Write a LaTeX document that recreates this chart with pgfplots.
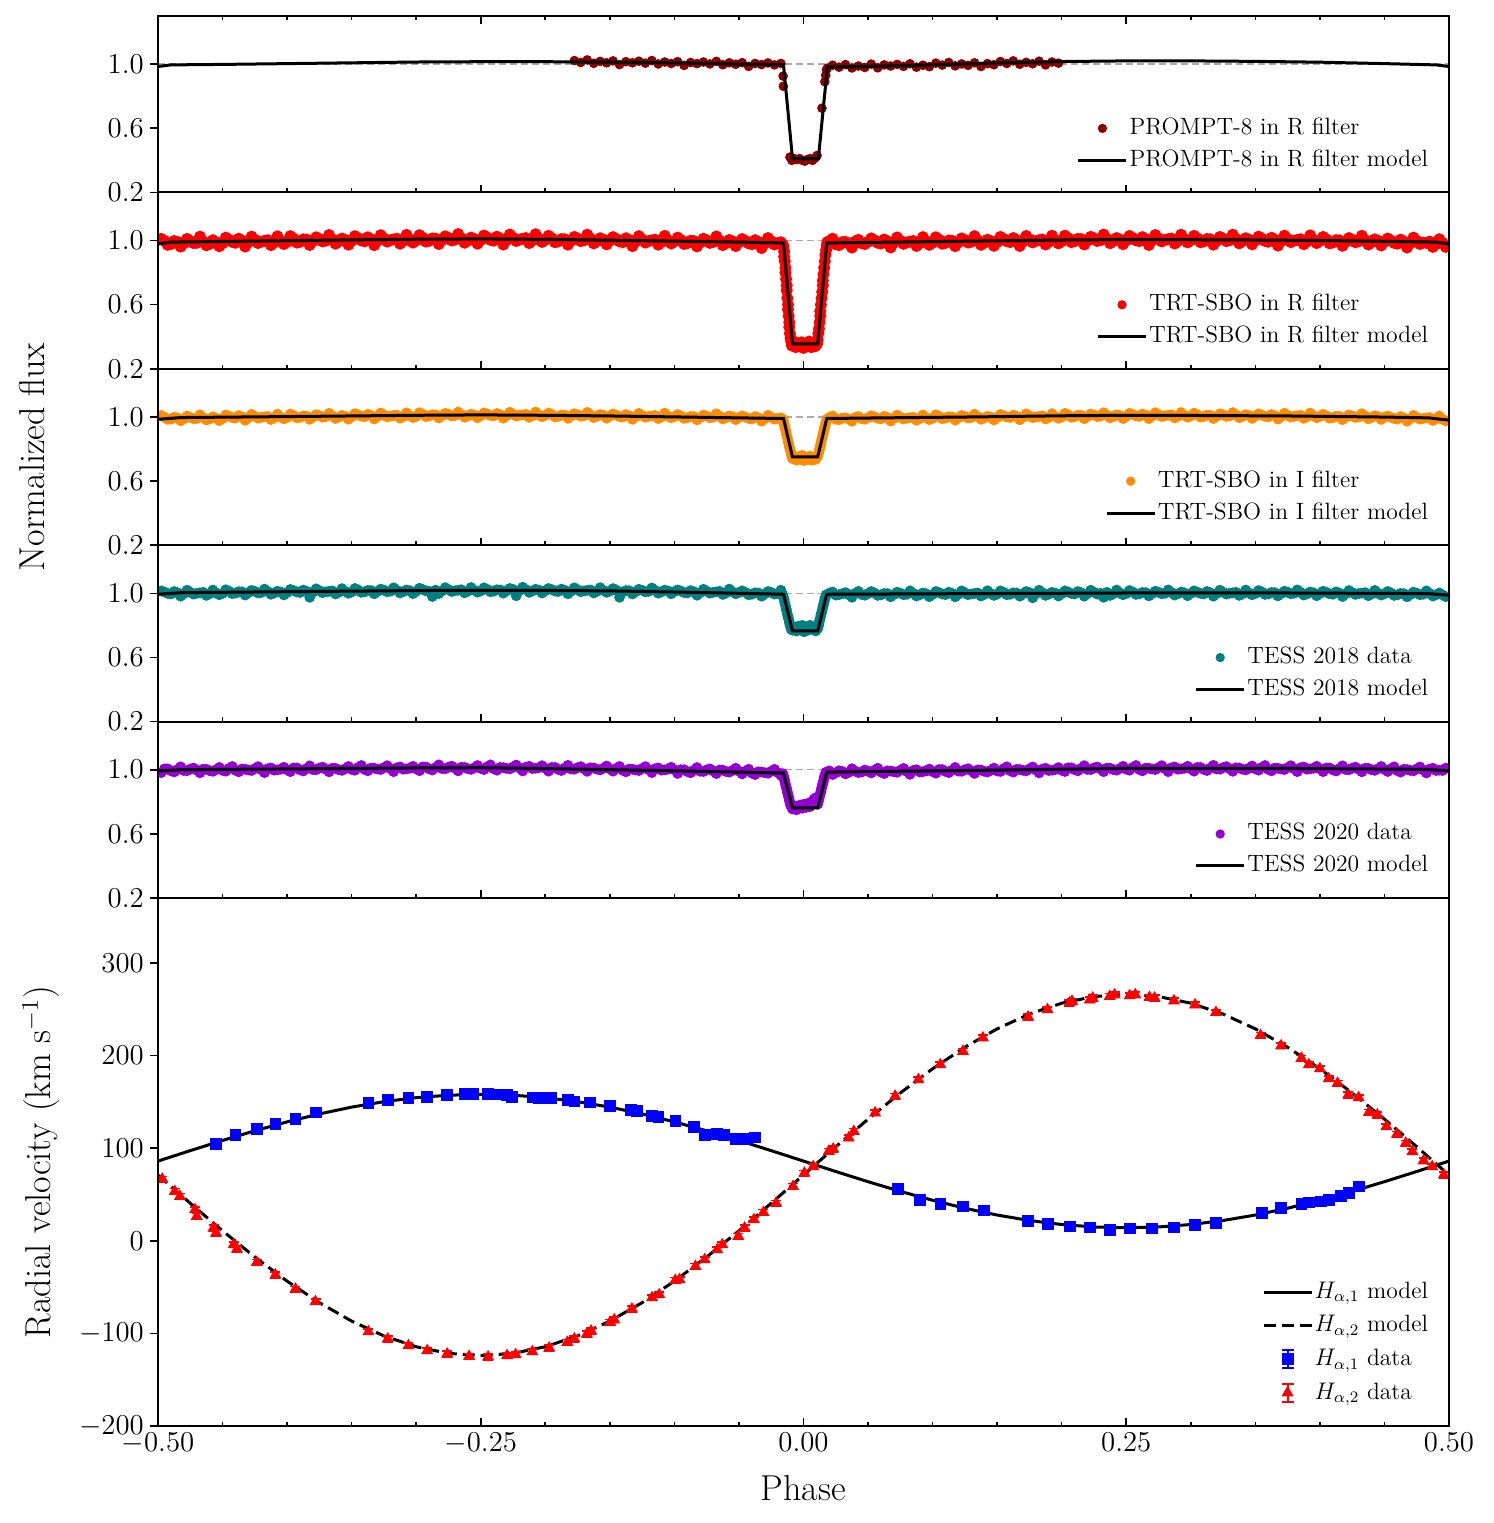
\documentclass[border=0pt]{standalone}
\usepackage{fontspec}
\usepackage{pgfplots}
\pgfplotsset{compat=1.18}
\definecolor{pdarkred}{HTML}{8B0000}
\definecolor{pteal}{HTML}{008080}
\definecolor{pviolet}{HTML}{9400D3}
\definecolor{porange}{HTML}{FF8C00}
\definecolor{dgray}{HTML}{AAAAAA}
\pgfplotsset{
  base/.style={
    scale only axis, width=645.5pt,
    xmin=-0.5, xmax=0.5,
    axis on top,
    axis line style={line width=1pt},
    every tick/.append style={black, line width=0.8pt},
    major tick length=3.8pt, minor tick length=2.1pt,
    tick align=inside,
    xtick={-0.5,-0.25,0,0.25,0.5},
    minor xtick={-0.45,-0.4,-0.35,-0.3,-0.2,-0.15,-0.1,-0.05,0.05,0.1,0.15,0.2,0.3,0.35,0.4,0.45},
    ytick pos=left,
    ytick style={xshift=-3.8pt},
    yticklabel style={xshift=-3.6pt},
    tick label style={font=\fontsize{15.3}{18}\selectfont},
    clip marker paths=true,
    legend cell align=left,
    legend style={draw=none, fill=none, inner sep=0pt, outer sep=0pt,
       at={(1,0)}, anchor=south east, xshift=-9.7pt, yshift=8pt,
       font=\fontsize{11.8}{13}\selectfont,
       nodes={inner xsep=0.8pt, inner ysep=0pt, text height=11pt, text depth=5pt}},
  },
  flux/.style={base, height=88.2pt, ymin=0.2, ymax=1.3, ytick={0.2,0.6,1.0},
    yticklabel style={/pgf/number format/.cd, fixed, fixed zerofill, precision=1},
    xticklabels={}, xtick pos=left},
  dotleg/.style={legend image code/.code={\draw[mark repeat=2,mark phase=2,##1, mark size=2.1pt] plot coordinates {(0pt,0pt) (12pt,0pt) (24pt,0pt)};}},
  lineleg/.style={legend image code/.code={\draw[##1] (0pt,0pt) -- (24pt,0pt);}},
  errlegB/.style={legend image code/.code={\draw[blue, line width=0.9pt] (12pt,-4.5pt) -- (12pt,4.5pt) (9pt,-4.5pt) -- (15pt,-4.5pt) (9pt,4.5pt) -- (15pt,4.5pt); \draw[##1] plot coordinates {(12pt,0pt)};}},
  errlegR/.style={legend image code/.code={\draw[red, line width=0.9pt] (12pt,-4.5pt) -- (12pt,4.5pt) (9pt,-4.5pt) -- (15pt,-4.5pt) (9pt,4.5pt) -- (15pt,4.5pt); \draw[##1] plot coordinates {(12pt,0pt)};}},
  refline/.style={dgray, line width=0.75pt, dash pattern=on 3.5pt off 2pt, forget plot},
  model/.style={black, line width=1.5pt, lineleg},
  dat/.style={only marks, mark=*, mark size=2.2pt, dotleg},
  datbig/.style={only marks, mark=*, mark size=2.8pt, dotleg},
  datmid/.style={only marks, mark=*, mark size=2.5pt, dotleg},
}
\begin{document}
\begin{tikzpicture}
\path[use as bounding box] (0,0) rectangle (747pt,761.5pt);

% ---------------- Panel 1: PROMPT-8 R
\begin{axis}[flux, at={(79pt,665.3pt)}, anchor=south west, xtick pos=both]
\addplot[refline] coordinates {(-0.5,1)(0.5,1)};
\addplot[dat, pdarkred] coordinates {
(-0.1775,1.022)(-0.1725,1.010)(-0.1675,1.026)(-0.1625,1.005)(-0.1575,1.017)(-0.1525,1.008)
(-0.1475,1.020)(-0.1425,0.997)(-0.1375,1.015)(-0.1325,1.008)(-0.1275,1.018)(-0.1225,1.006)(-0.1175,1.022)(-0.1125,1.001)(-0.1075,1.013)(-0.1025,1.004)
(-0.0975,1.015)(-0.0925,0.992)(-0.0875,1.010)(-0.0825,1.003)(-0.0775,1.013)(-0.0725,1.001)(-0.0675,1.017)(-0.0625,0.996)(-0.0575,1.008)(-0.0525,0.999)
(-0.0475,1.009)(-0.0425,0.986)(-0.0375,1.004)(-0.0325,0.997)(-0.0275,1.007)(-0.0225,0.995)(-0.0175,1.004)
(-0.0158,0.925)(-0.0156,0.862)
(-0.0105,0.420)(-0.0090,0.400)(-0.0070,0.410)(-0.0050,0.405)(-0.0030,0.410)(-0.0010,0.400)(0.0010,0.395)(0.0030,0.405)(0.0050,0.410)(0.0070,0.400)(0.0090,0.415)(0.0105,0.430)
(0.0143,0.725)(0.0165,0.890)(0.0172,0.930)(0.0178,0.965)(0.0185,0.975)
(0.0225,0.993)(0.0275,0.981)(0.0325,0.997)(0.0375,0.976)(0.0425,0.988)(0.0475,0.979)
(0.0525,1.000)(0.0575,0.977)(0.0625,0.995)(0.0675,0.988)(0.0725,0.998)(0.0775,0.986)(0.0825,1.002)(0.0875,0.981)(0.0925,0.993)(0.0975,0.984)
(0.1025,1.006)(0.1075,0.994)(0.1125,1.010)(0.1175,0.989)(0.1225,1.001)(0.1275,0.992)(0.1325,1.008)(0.1375,0.985)(0.1425,1.003)(0.1475,0.996)
(0.1525,1.016)(0.1575,1.004)(0.1625,1.020)(0.1675,0.999)(0.1725,1.011)(0.1775,1.002)(0.1825,1.018)(0.1875,0.995)(0.1925,1.013)(0.1975,1.006)
};
\addlegendentry{PROMPT-8 in R filter}
\addplot[model] coordinates {
(-0.5,0.985)(-0.49,0.995)(-0.45,0.998)(-0.4,1.003)(-0.35,1.008)(-0.3,1.013)(-0.25,1.015)(-0.2,1.015)(-0.15,1.012)(-0.1,1.008)(-0.05,1.0)(-0.0155,0.996)(-0.0085,0.41)(0.0115,0.41)(0.0185,0.982)(0.05,0.986)(0.1,0.995)(0.15,1.007)(0.2,1.016)(0.25,1.02)(0.3,1.02)(0.35,1.017)(0.4,1.012)(0.45,1.003)(0.49,0.995)(0.5,0.985)
};
\addlegendentry{PROMPT-8 in R filter model}
\end{axis}

% ---------------- Panel 2: TRT-SBO R
\begin{axis}[flux, at={(79pt,577.1pt)}, anchor=south west]
\addplot[refline] coordinates {(-0.5,1)(0.5,1)};
\addplot[datbig, red] coordinates {
(-0.4975,1.010)(-0.4925,0.973)(-0.4875,0.997)(-0.4825,0.962)(-0.4775,1.010)(-0.4725,0.984)(-0.4675,1.024)(-0.4625,0.970)(-0.4575,1.002)(-0.4525,0.964)
(-0.4475,1.018)(-0.4425,0.991)(-0.4375,1.011)(-0.4325,0.962)(-0.4275,1.024)(-0.4225,0.984)(-0.4175,0.998)(-0.4125,0.971)(-0.4075,1.026)(-0.4025,0.978)
(-0.3975,1.027)(-0.3925,0.987)(-0.3875,1.007)(-0.3825,0.972)(-0.3775,1.020)(-0.3725,0.994)(-0.3675,1.034)(-0.3625,0.980)(-0.3575,1.012)(-0.3525,0.974)
(-0.3475,1.027)(-0.3425,1.000)(-0.3375,1.020)(-0.3325,0.971)(-0.3275,1.033)(-0.3225,0.993)(-0.3175,1.007)(-0.3125,0.980)(-0.3075,1.035)(-0.3025,0.987)
(-0.2975,1.033)(-0.2925,0.993)(-0.2875,1.013)(-0.2825,0.978)(-0.2775,1.026)(-0.2725,1.000)(-0.2675,1.040)(-0.2625,0.986)(-0.2575,1.018)(-0.2525,0.980)
(-0.2475,1.031)(-0.2425,1.004)(-0.2375,1.024)(-0.2325,0.975)(-0.2275,1.037)(-0.2225,0.997)(-0.2175,1.011)(-0.2125,0.984)(-0.2075,1.039)(-0.2025,0.991)
(-0.1975,1.029)(-0.1925,0.989)(-0.1875,1.009)(-0.1825,0.974)(-0.1775,1.022)(-0.1725,0.996)(-0.1675,1.036)(-0.1625,0.982)(-0.1575,1.014)(-0.1525,0.976)
(-0.1475,1.021)(-0.1425,0.994)(-0.1375,1.014)(-0.1325,0.965)(-0.1275,1.027)(-0.1225,0.987)(-0.1175,1.001)(-0.1125,0.974)(-0.1075,1.029)(-0.1025,0.981)
(-0.0975,1.018)(-0.0925,0.978)(-0.0875,0.998)(-0.0825,0.963)(-0.0775,1.011)(-0.0725,0.985)(-0.0675,1.025)(-0.0625,0.971)(-0.0575,1.003)(-0.0525,0.965)
(-0.0475,1.009)(-0.0425,0.982)(-0.0375,1.002)(-0.0325,0.953)(-0.0275,1.015)(-0.0225,0.975)(-0.0175,0.989)
(-0.0160,0.975)(-0.0155,0.960)(-0.0150,0.930)(-0.0150,0.900)(-0.0145,0.870)(-0.0140,0.830)(-0.0140,0.800)(-0.0135,0.760)(-0.0130,0.720)(-0.0130,0.690)(-0.0125,0.640)(-0.0120,0.600)(-0.0120,0.570)(-0.0115,0.530)(-0.0110,0.490)(-0.0110,0.460)(-0.0105,0.420)(-0.0100,0.390)(-0.0095,0.370)
(-0.0090,0.345)(-0.0075,0.370)(-0.0060,0.335)(-0.0045,0.360)(-0.0030,0.340)(-0.0015,0.365)(0.0000,0.330)(0.0015,0.355)(0.0030,0.345)(0.0045,0.370)(0.0060,0.335)(0.0075,0.360)(0.0090,0.340)(0.0105,0.355)
(0.0110,0.380)(0.0115,0.420)(0.0120,0.450)(0.0125,0.490)(0.0130,0.530)(0.0130,0.560)(0.0135,0.600)(0.0140,0.640)(0.0145,0.680)(0.0150,0.720)(0.0150,0.750)(0.0155,0.790)(0.0160,0.830)(0.0165,0.870)(0.0170,0.910)(0.0175,0.940)(0.0180,0.970)(0.0185,0.990)
(0.0225,1.011)(0.0275,0.971)(0.0325,0.991)(0.0375,0.956)(0.0425,1.004)(0.0475,0.978)
(0.0525,1.013)(0.0575,0.986)(0.0625,1.006)(0.0675,0.957)(0.0725,1.019)(0.0775,0.979)(0.0825,0.993)(0.0875,0.966)(0.0925,1.021)(0.0975,0.973)
(0.1025,1.020)(0.1075,0.980)(0.1125,1.000)(0.1175,0.965)(0.1225,1.013)(0.1275,0.987)(0.1325,1.027)(0.1375,0.973)(0.1425,1.005)(0.1475,0.967)
(0.1525,1.022)(0.1575,0.995)(0.1625,1.015)(0.1675,0.966)(0.1725,1.028)(0.1775,0.988)(0.1825,1.002)(0.1875,0.975)(0.1925,1.030)(0.1975,0.982)
(0.2025,1.030)(0.2075,0.990)(0.2125,1.010)(0.2175,0.975)(0.2225,1.023)(0.2275,0.997)(0.2325,1.037)(0.2375,0.983)(0.2425,1.015)(0.2475,0.977)
(0.2525,1.028)(0.2575,1.001)(0.2625,1.021)(0.2675,0.972)(0.2725,1.034)(0.2775,0.994)(0.2825,1.008)(0.2875,0.981)(0.2925,1.036)(0.2975,0.988)
(0.3025,1.029)(0.3075,0.989)(0.3125,1.009)(0.3175,0.974)(0.3225,1.022)(0.3275,0.996)(0.3325,1.036)(0.3375,0.982)(0.3425,1.014)(0.3475,0.976)
(0.3525,1.024)(0.3575,0.997)(0.3625,1.017)(0.3675,0.968)(0.3725,1.030)(0.3775,0.990)(0.3825,1.004)(0.3875,0.977)(0.3925,1.032)(0.3975,0.984)
(0.4025,1.022)(0.4075,0.982)(0.4125,1.002)(0.4175,0.967)(0.4225,1.015)(0.4275,0.989)(0.4325,1.029)(0.4375,0.975)(0.4425,1.007)(0.4475,0.969)
(0.4525,1.012)(0.4575,0.985)(0.4625,1.005)(0.4675,0.956)(0.4725,1.018)(0.4775,0.978)(0.4825,0.985)(0.4875,0.960)(0.4925,1.008)(0.4975,0.960)
(-0.495,0.998)(-0.490,0.978)(-0.485,0.992)(-0.480,0.982)(-0.475,0.996)(-0.470,0.985)(-0.465,0.994)(-0.460,0.979)(-0.455,0.990)(-0.450,0.983)
(-0.445,1.006)(-0.440,0.986)(-0.435,1.000)(-0.430,0.990)(-0.425,1.004)(-0.420,0.993)(-0.415,1.002)(-0.410,0.987)(-0.405,0.998)(-0.400,0.991)
(-0.395,1.012)(-0.390,0.992)(-0.385,1.006)(-0.380,0.996)(-0.375,1.010)(-0.370,0.999)(-0.365,1.008)(-0.360,0.993)(-0.355,1.004)(-0.350,0.997)
(-0.345,1.015)(-0.340,0.995)(-0.335,1.009)(-0.330,0.999)(-0.325,1.013)(-0.320,1.002)(-0.315,1.011)(-0.310,0.996)(-0.305,1.007)(-0.300,1.000)
(-0.295,1.018)(-0.290,0.998)(-0.285,1.012)(-0.280,1.002)(-0.275,1.016)(-0.270,1.005)(-0.265,1.014)(-0.260,0.999)(-0.255,1.010)(-0.250,1.003)
(-0.245,1.019)(-0.240,0.999)(-0.235,1.013)(-0.230,1.003)(-0.225,1.017)(-0.220,1.006)(-0.215,1.015)(-0.210,1.000)(-0.205,1.011)(-0.200,1.004)
(-0.195,1.014)(-0.190,0.994)(-0.185,1.008)(-0.180,0.998)(-0.175,1.012)(-0.170,1.001)(-0.165,1.010)(-0.160,0.995)(-0.155,1.006)(-0.150,0.999)
(-0.145,1.009)(-0.140,0.989)(-0.135,1.003)(-0.130,0.993)(-0.125,1.007)(-0.120,0.996)(-0.115,1.005)(-0.110,0.990)(-0.105,1.001)(-0.100,0.994)
(-0.095,1.003)(-0.090,0.983)(-0.085,0.997)(-0.080,0.987)(-0.075,1.001)(-0.070,0.990)(-0.065,0.999)(-0.060,0.984)(-0.055,0.995)(-0.050,0.988)
(-0.045,0.997)(-0.040,0.977)(-0.035,0.991)(-0.030,0.981)(-0.025,0.995)(-0.020,0.984)
(0.020,0.996)(0.025,0.976)(0.030,0.990)(0.035,0.980)(0.040,0.994)(0.045,0.983)(0.050,0.992)
(0.055,1.001)(0.060,0.981)(0.065,0.995)(0.070,0.985)(0.075,0.999)(0.080,0.988)(0.085,0.997)(0.090,0.982)(0.095,0.993)(0.100,0.986)
(0.105,1.005)(0.110,0.985)(0.115,0.999)(0.120,0.989)(0.125,1.003)(0.130,0.992)(0.135,1.001)(0.140,0.986)(0.145,0.997)(0.150,0.990)
(0.155,1.010)(0.160,0.990)(0.165,1.004)(0.170,0.994)(0.175,1.008)(0.180,0.997)(0.185,1.006)(0.190,0.991)(0.195,1.002)(0.200,0.995)
(0.205,1.015)(0.210,0.995)(0.215,1.009)(0.220,0.999)(0.225,1.013)(0.230,1.002)(0.235,1.011)(0.240,0.996)(0.245,1.007)(0.250,1.000)
(0.255,1.016)(0.260,0.996)(0.265,1.010)(0.270,1.000)(0.275,1.014)(0.280,1.003)(0.285,1.012)(0.290,0.997)(0.295,1.008)(0.300,1.001)
(0.305,1.014)(0.310,0.994)(0.315,1.008)(0.320,0.998)(0.325,1.012)(0.330,1.001)(0.335,1.010)(0.340,0.995)(0.345,1.006)(0.350,0.999)
(0.355,1.012)(0.360,0.992)(0.365,1.006)(0.370,0.996)(0.375,1.010)(0.380,0.999)(0.385,1.008)(0.390,0.993)(0.395,1.004)(0.400,0.997)
(0.405,1.007)(0.410,0.987)(0.415,1.001)(0.420,0.991)(0.425,1.005)(0.430,0.994)(0.435,1.003)(0.440,0.988)(0.445,0.999)(0.450,0.992)
(0.455,1.000)(0.460,0.980)(0.465,0.994)(0.470,0.984)(0.475,0.998)(0.480,0.987)(0.485,0.993)(0.490,0.978)(0.495,0.985)
};
\addlegendentry{TRT-SBO in R filter}
\addplot[model] coordinates {
(-0.5,0.978)(-0.49,0.99)(-0.45,0.994)(-0.4,0.999)(-0.35,1.004)(-0.3,1.008)(-0.25,1.01)(-0.2,1.007)(-0.15,1.002)(-0.1,0.996)(-0.05,0.99)(-0.0155,0.985)(-0.0085,0.356)(0.011,0.356)(0.018,0.985)(0.05,0.988)(0.1,0.993)(0.15,0.998)(0.2,1.003)(0.25,1.006)(0.3,1.005)(0.35,1.003)(0.4,1.0)(0.45,0.995)(0.49,0.99)(0.5,0.978)
};
\addlegendentry{TRT-SBO in R filter model}
\end{axis}

% ---------------- Panel 3: TRT-SBO I
\begin{axis}[flux, at={(79pt,488.9pt)}, anchor=south west,
  ylabel={Normalized flux},
  every axis y label/.style={at={(axis description cs:-0.0976,0.5)}, rotate=90, anchor=center, font=\fontsize{18}{21}\selectfont}]
\addplot[refline] coordinates {(-0.5,1)(0.5,1)};
\addplot[datmid, porange] coordinates {
(-0.4975,1.009)(-0.4925,0.985)(-0.4875,0.997)(-0.4825,0.976)(-0.4775,1.005)(-0.4725,0.989)(-0.4675,1.013)(-0.4625,0.981)(-0.4575,1.000)(-0.4525,0.977)
(-0.4475,1.012)(-0.4425,0.996)(-0.4375,1.008)(-0.4325,0.979)(-0.4275,1.016)(-0.4225,0.992)(-0.4175,1.000)(-0.4125,0.984)(-0.4075,1.017)(-0.4025,0.988)
(-0.3975,1.018)(-0.3925,0.994)(-0.3875,1.006)(-0.3825,0.985)(-0.3775,1.014)(-0.3725,0.998)(-0.3675,1.022)(-0.3625,0.990)(-0.3575,1.009)(-0.3525,0.986)
(-0.3475,1.020)(-0.3425,1.004)(-0.3375,1.016)(-0.3325,0.987)(-0.3275,1.024)(-0.3225,1.000)(-0.3175,1.008)(-0.3125,0.992)(-0.3075,1.025)(-0.3025,0.996)
(-0.2975,1.026)(-0.2925,1.002)(-0.2875,1.014)(-0.2825,0.993)(-0.2775,1.022)(-0.2725,1.006)(-0.2675,1.030)(-0.2625,0.998)(-0.2575,1.017)(-0.2525,0.994)
(-0.2475,1.025)(-0.2425,1.009)(-0.2375,1.021)(-0.2325,0.992)(-0.2275,1.029)(-0.2225,1.005)(-0.2175,1.013)(-0.2125,0.997)(-0.2075,1.030)(-0.2025,1.001)
(-0.1975,1.024)(-0.1925,1.000)(-0.1875,1.012)(-0.1825,0.991)(-0.1775,1.020)(-0.1725,1.004)(-0.1675,1.028)(-0.1625,0.996)(-0.1575,1.015)(-0.1525,0.992)
(-0.1475,1.018)(-0.1425,1.002)(-0.1375,1.014)(-0.1325,0.985)(-0.1275,1.022)(-0.1225,0.998)(-0.1175,1.006)(-0.1125,0.990)(-0.1075,1.023)(-0.1025,0.994)
(-0.0975,1.015)(-0.0925,0.991)(-0.0875,1.003)(-0.0825,0.982)(-0.0775,1.011)(-0.0725,0.995)(-0.0675,1.019)(-0.0625,0.987)(-0.0575,1.006)(-0.0525,0.983)
(-0.0475,1.006)(-0.0425,0.990)(-0.0375,1.002)(-0.0325,0.973)(-0.0275,1.010)(-0.0225,0.986)(-0.0175,0.994)
(-0.0160,0.985)(-0.0155,0.975)(-0.0150,0.955)(-0.0145,0.940)(-0.0140,0.920)(-0.0135,0.905)(-0.0130,0.885)(-0.0125,0.870)(-0.0120,0.850)(-0.0115,0.835)(-0.0110,0.815)(-0.0105,0.800)(-0.0100,0.785)(-0.0095,0.770)(-0.0090,0.755)
(-0.0085,0.740)(-0.0070,0.755)(-0.0055,0.730)(-0.0040,0.750)(-0.0025,0.735)(-0.0010,0.760)(0.0005,0.728)(0.0020,0.748)(0.0035,0.735)(0.0050,0.755)(0.0065,0.730)(0.0080,0.745)(0.0095,0.735)(0.0105,0.750)
(0.0110,0.755)(0.0115,0.770)(0.0120,0.785)(0.0125,0.800)(0.0130,0.820)(0.0135,0.835)(0.0140,0.855)(0.0145,0.870)(0.0150,0.890)(0.0155,0.905)(0.0160,0.925)(0.0165,0.940)(0.0170,0.955)(0.0175,0.970)(0.0180,0.985)
(0.0225,1.006)(0.0275,0.982)(0.0325,0.994)(0.0375,0.973)(0.0425,1.002)(0.0475,0.986)
(0.0525,1.007)(0.0575,0.991)(0.0625,1.003)(0.0675,0.974)(0.0725,1.011)(0.0775,0.987)(0.0825,0.995)(0.0875,0.979)(0.0925,1.012)(0.0975,0.983)
(0.1025,1.013)(0.1075,0.989)(0.1125,1.001)(0.1175,0.980)(0.1225,1.009)(0.1275,0.993)(0.1325,1.017)(0.1375,0.985)(0.1425,1.004)(0.1475,0.981)
(0.1525,1.015)(0.1575,0.999)(0.1625,1.011)(0.1675,0.982)(0.1725,1.019)(0.1775,0.995)(0.1825,1.003)(0.1875,0.987)(0.1925,1.020)(0.1975,0.991)
(0.2025,1.022)(0.2075,0.998)(0.2125,1.010)(0.2175,0.989)(0.2225,1.018)(0.2275,1.002)(0.2325,1.026)(0.2375,0.994)(0.2425,1.013)(0.2475,0.990)
(0.2525,1.022)(0.2575,1.006)(0.2625,1.018)(0.2675,0.989)(0.2725,1.026)(0.2775,1.002)(0.2825,1.010)(0.2875,0.994)(0.2925,1.027)(0.2975,0.998)
(0.3025,1.023)(0.3075,0.999)(0.3125,1.011)(0.3175,0.990)(0.3225,1.019)(0.3275,1.003)(0.3325,1.027)(0.3375,0.995)(0.3425,1.014)(0.3475,0.991)
(0.3525,1.019)(0.3575,1.003)(0.3625,1.015)(0.3675,0.986)(0.3725,1.023)(0.3775,0.999)(0.3825,1.007)(0.3875,0.991)(0.3925,1.024)(0.3975,0.995)
(0.4025,1.016)(0.4075,0.992)(0.4125,1.004)(0.4175,0.983)(0.4225,1.012)(0.4275,0.996)(0.4325,1.020)(0.4375,0.988)(0.4425,1.007)(0.4475,0.984)
(0.4525,1.006)(0.4575,0.990)(0.4625,1.002)(0.4675,0.973)(0.4725,1.010)(0.4775,0.986)(0.4825,0.994)(0.4875,0.978)(0.4925,1.005)(0.4975,0.975)
(-0.495,0.998)(-0.490,0.986)(-0.485,0.994)(-0.480,0.988)(-0.475,0.997)(-0.470,0.990)(-0.465,0.996)(-0.460,0.987)(-0.455,0.993)(-0.450,0.989)
(-0.445,1.005)(-0.440,0.993)(-0.435,1.001)(-0.430,0.995)(-0.425,1.004)(-0.420,0.997)(-0.415,1.003)(-0.410,0.994)(-0.405,1.000)(-0.400,0.996)
(-0.395,1.009)(-0.390,0.997)(-0.385,1.005)(-0.380,0.999)(-0.375,1.008)(-0.370,1.001)(-0.365,1.007)(-0.360,0.998)(-0.355,1.004)(-0.350,1.000)
(-0.345,1.013)(-0.340,1.001)(-0.335,1.009)(-0.330,1.003)(-0.325,1.012)(-0.320,1.005)(-0.315,1.011)(-0.310,1.002)(-0.305,1.008)(-0.300,1.004)
(-0.295,1.017)(-0.290,1.005)(-0.285,1.013)(-0.280,1.007)(-0.275,1.016)(-0.270,1.009)(-0.265,1.015)(-0.260,1.006)(-0.255,1.012)(-0.250,1.008)
(-0.245,1.018)(-0.240,1.006)(-0.235,1.014)(-0.230,1.008)(-0.225,1.017)(-0.220,1.010)(-0.215,1.016)(-0.210,1.007)(-0.205,1.013)(-0.200,1.009)
(-0.195,1.015)(-0.190,1.003)(-0.185,1.011)(-0.180,1.005)(-0.175,1.014)(-0.170,1.007)(-0.165,1.013)(-0.160,1.004)(-0.155,1.010)(-0.150,1.006)
(-0.145,1.011)(-0.140,0.999)(-0.135,1.007)(-0.130,1.001)(-0.125,1.010)(-0.120,1.003)(-0.115,1.009)(-0.110,1.000)(-0.105,1.006)(-0.100,1.002)
(-0.095,1.006)(-0.090,0.994)(-0.085,1.002)(-0.080,0.996)(-0.075,1.005)(-0.070,0.998)(-0.065,1.004)(-0.060,0.995)(-0.055,1.001)(-0.050,0.997)
(-0.045,0.999)(-0.040,0.987)(-0.035,0.995)(-0.030,0.989)(-0.025,0.998)(-0.020,0.991)
(0.020,0.997)(0.025,0.985)(0.030,0.993)(0.035,0.987)(0.040,0.996)(0.045,0.989)(0.050,0.995)
(0.055,1.000)(0.060,0.988)(0.065,0.996)(0.070,0.990)(0.075,0.999)(0.080,0.992)(0.085,0.998)(0.090,0.989)(0.095,0.995)(0.100,0.991)
(0.105,1.004)(0.110,0.992)(0.115,1.000)(0.120,0.994)(0.125,1.003)(0.130,0.996)(0.135,1.002)(0.140,0.993)(0.145,0.999)(0.150,0.995)
(0.155,1.008)(0.160,0.996)(0.165,1.004)(0.170,0.998)(0.175,1.007)(0.180,1.000)(0.185,1.006)(0.190,0.997)(0.195,1.003)(0.200,0.999)
(0.205,1.013)(0.210,1.001)(0.215,1.009)(0.220,1.003)(0.225,1.012)(0.230,1.005)(0.235,1.011)(0.240,1.002)(0.245,1.008)(0.250,1.004)
(0.255,1.015)(0.260,1.003)(0.265,1.011)(0.270,1.005)(0.275,1.014)(0.280,1.007)(0.285,1.013)(0.290,1.004)(0.295,1.010)(0.300,1.006)
(0.305,1.014)(0.310,1.002)(0.315,1.010)(0.320,1.004)(0.325,1.013)(0.330,1.006)(0.335,1.012)(0.340,1.003)(0.345,1.009)(0.350,1.005)
(0.355,1.012)(0.360,1.000)(0.365,1.008)(0.370,1.002)(0.375,1.011)(0.380,1.004)(0.385,1.010)(0.390,1.001)(0.395,1.007)(0.400,1.003)
(0.405,1.007)(0.410,0.995)(0.415,1.003)(0.420,0.997)(0.425,1.006)(0.430,0.999)(0.435,1.005)(0.440,0.996)(0.445,1.002)(0.450,0.998)
(0.455,0.998)(0.460,0.986)(0.465,0.994)(0.470,0.988)(0.475,0.997)(0.480,0.990)(0.485,0.996)(0.490,0.987)(0.495,0.985)
};
\addlegendentry{TRT-SBO in I filter}
\addplot[model] coordinates {
(-0.5,0.985)(-0.482,0.996)(-0.4,1.002)(-0.3,1.01)(-0.25,1.0125)(-0.2,1.01)(-0.15,1.006)(-0.1,1.0)(-0.05,0.994)(-0.0155,0.99)(-0.0085,0.75)(0.011,0.75)(0.018,0.99)(0.05,0.993)(0.134,1.0)(0.2,1.007)(0.25,1.01)(0.3,1.009)(0.374,1.006)(0.45,0.999)(0.484,0.994)(0.5,0.98)
};
\addlegendentry{TRT-SBO in I filter model}
\end{axis}

% ---------------- Panel 4: TESS 2018
\begin{axis}[flux, at={(79pt,400.7pt)}, anchor=south west]
\addplot[refline] coordinates {(-0.5,1)(0.5,1)};
\addplot[datmid, pteal] coordinates {
(-0.4975,1.015)(-0.4925,0.999)(-0.4875,1.011)(-0.4825,0.982)(-0.4775,1.019)(-0.4725,0.995)(-0.4675,1.003)(-0.4625,0.987)(-0.4575,1.020)(-0.4525,0.991)
(-0.4475,1.022)(-0.4425,0.998)(-0.4375,1.010)(-0.4325,0.989)(-0.4275,1.018)(-0.4225,1.002)(-0.4175,1.026)(-0.4125,0.994)(-0.4075,1.013)(-0.4025,0.990)
(-0.3975,1.024)(-0.3925,1.008)(-0.3875,1.020)(-0.3825,0.975)(-0.3775,1.028)(-0.3725,1.004)(-0.3675,1.012)(-0.3625,0.996)(-0.3575,1.029)(-0.3525,1.000)
(-0.3475,1.030)(-0.3425,1.006)(-0.3375,1.018)(-0.3325,0.997)(-0.3275,1.026)(-0.3225,1.010)(-0.3175,1.034)(-0.3125,1.002)(-0.3075,1.021)(-0.3025,0.998)
(-0.2975,1.031)(-0.2925,1.015)(-0.2875,0.980)(-0.2825,0.998)(-0.2775,1.035)(-0.2725,1.011)(-0.2675,1.019)(-0.2625,1.003)(-0.2575,1.036)(-0.2525,1.007)
(-0.2475,1.034)(-0.2425,1.010)(-0.2375,1.022)(-0.2325,1.001)(-0.2275,1.030)(-0.2225,0.985)(-0.2175,1.038)(-0.2125,1.006)(-0.2075,1.025)(-0.2025,1.002)
(-0.1975,1.030)(-0.1925,1.014)(-0.1875,1.026)(-0.1825,0.997)(-0.1775,1.034)(-0.1725,1.010)(-0.1675,1.018)(-0.1625,1.002)(-0.1575,1.035)(-0.1525,1.006)
(-0.1475,1.029)(-0.1425,0.975)(-0.1375,1.017)(-0.1325,0.996)(-0.1275,1.025)(-0.1225,1.009)(-0.1175,1.033)(-0.1125,1.001)(-0.1075,1.020)(-0.1025,0.997)
(-0.0975,1.021)(-0.0925,1.005)(-0.0875,1.017)(-0.0825,0.988)(-0.0775,1.025)(-0.0725,1.001)(-0.0675,1.009)(-0.0625,0.993)(-0.0575,1.026)(-0.0525,0.997)
(-0.0475,1.015)(-0.0425,0.991)(-0.0375,1.003)(-0.0325,0.982)(-0.0275,1.011)(-0.0225,0.995)(-0.0175,1.019)
(-0.0160,0.990)(-0.0155,0.975)(-0.0150,0.960)(-0.0145,0.940)(-0.0140,0.925)(-0.0135,0.905)(-0.0130,0.890)(-0.0125,0.870)(-0.0120,0.855)(-0.0115,0.840)(-0.0110,0.820)(-0.0105,0.805)(-0.0100,0.790)(-0.0095,0.775)
(-0.0085,0.770)(-0.0070,0.790)(-0.0055,0.765)(-0.0040,0.795)(-0.0025,0.775)(-0.0010,0.800)(0.0005,0.760)(0.0020,0.785)(0.0035,0.770)(0.0050,0.800)(0.0065,0.775)(0.0080,0.790)(0.0095,0.765)(0.0105,0.785)
(0.0110,0.780)(0.0115,0.795)(0.0120,0.810)(0.0125,0.830)(0.0130,0.845)(0.0135,0.865)(0.0140,0.880)(0.0145,0.895)(0.0150,0.915)(0.0155,0.930)(0.0160,0.945)(0.0165,0.965)(0.0170,0.975)(0.0175,0.990)
(0.0225,1.008)(0.0275,0.992)(0.0325,1.004)(0.0375,0.975)(0.0425,1.012)(0.0475,0.988)
(0.0525,1.011)(0.0575,0.987)(0.0625,0.999)(0.0675,0.978)(0.0725,1.007)(0.0775,0.991)(0.0825,1.015)(0.0875,0.983)(0.0925,1.002)(0.0975,0.979)
(0.1025,1.011)(0.1075,0.995)(0.1125,1.007)(0.1175,0.978)(0.1225,1.015)(0.1275,0.991)(0.1325,0.999)(0.1375,0.983)(0.1425,1.016)(0.1475,0.987)
(0.1525,1.015)(0.1575,0.991)(0.1625,1.003)(0.1675,0.982)(0.1725,1.011)(0.1775,0.972)(0.1825,1.019)(0.1875,0.987)(0.1925,1.006)(0.1975,0.983)
(0.2025,1.015)(0.2075,0.999)(0.2125,1.011)(0.2175,0.982)(0.2225,1.019)(0.2275,0.995)(0.2325,0.975)(0.2375,0.987)(0.2425,1.020)(0.2475,0.991)
(0.2525,1.017)(0.2575,0.993)(0.2625,1.005)(0.2675,0.984)(0.2725,1.013)(0.2775,0.997)(0.2825,1.021)(0.2875,0.989)(0.2925,1.008)(0.2975,0.985)
(0.3025,1.015)(0.3075,0.999)(0.3125,1.011)(0.3175,0.982)(0.3225,1.019)(0.3275,0.995)(0.3325,1.003)(0.3375,0.987)(0.3425,1.020)(0.3475,0.991)
(0.3525,1.017)(0.3575,0.993)(0.3625,1.005)(0.3675,0.984)(0.3725,1.013)(0.3775,0.997)(0.3825,1.021)(0.3875,0.989)(0.3925,1.008)(0.3975,0.985)
(0.4025,1.013)(0.4075,0.997)(0.4125,1.009)(0.4175,0.980)(0.4225,1.017)(0.4275,0.993)(0.4325,1.001)(0.4375,0.985)(0.4425,1.018)(0.4475,0.989)
(0.4525,1.011)(0.4575,0.987)(0.4625,0.999)(0.4675,0.978)(0.4725,1.007)(0.4775,0.991)(0.4825,1.015)(0.4875,0.983)(0.4925,1.002)(0.4975,0.979)
(-0.495,1.008)(-0.490,0.996)(-0.485,1.004)(-0.480,0.998)(-0.475,1.007)(-0.470,1.000)(-0.465,1.006)(-0.460,0.997)(-0.455,1.003)(-0.450,0.999)
(-0.445,1.013)(-0.440,1.001)(-0.435,1.009)(-0.430,1.003)(-0.425,1.012)(-0.420,1.005)(-0.415,1.011)(-0.410,1.002)(-0.405,1.008)(-0.400,1.004)
(-0.395,1.017)(-0.390,1.005)(-0.385,1.013)(-0.380,1.007)(-0.375,1.016)(-0.370,1.009)(-0.365,1.015)(-0.360,1.006)(-0.355,1.012)(-0.350,1.008)
(-0.345,1.021)(-0.340,1.009)(-0.335,1.017)(-0.330,1.011)(-0.325,1.020)(-0.320,1.013)(-0.315,1.019)(-0.310,1.010)(-0.305,1.016)(-0.300,1.012)
(-0.295,1.024)(-0.290,1.012)(-0.285,1.020)(-0.280,1.014)(-0.275,1.023)(-0.270,1.016)(-0.265,1.022)(-0.260,1.013)(-0.255,1.019)(-0.250,1.015)
(-0.245,1.025)(-0.240,1.013)(-0.235,1.021)(-0.230,1.015)(-0.225,1.024)(-0.220,1.017)(-0.215,1.023)(-0.210,1.014)(-0.205,1.020)(-0.200,1.016)
(-0.195,1.023)(-0.190,1.011)(-0.185,1.019)(-0.180,1.013)(-0.175,1.022)(-0.170,1.015)(-0.165,1.021)(-0.160,1.012)(-0.155,1.018)(-0.150,1.014)
(-0.145,1.020)(-0.140,1.008)(-0.135,1.016)(-0.130,1.010)(-0.125,1.019)(-0.120,1.012)(-0.115,1.018)(-0.110,1.009)(-0.105,1.015)(-0.100,1.011)
(-0.095,1.014)(-0.090,1.002)(-0.085,1.010)(-0.080,1.004)(-0.075,1.013)(-0.070,1.006)(-0.065,1.012)(-0.060,1.003)(-0.055,1.009)(-0.050,1.005)
(-0.045,1.006)(-0.040,0.994)(-0.035,1.002)(-0.030,0.996)(-0.025,1.005)(-0.020,0.998)
(0.020,1.001)(0.025,0.989)(0.030,0.997)(0.035,0.991)(0.040,1.000)(0.045,0.993)(0.050,0.999)
(0.055,1.002)(0.060,0.990)(0.065,0.998)(0.070,0.992)(0.075,1.001)(0.080,0.994)(0.085,1.000)(0.090,0.991)(0.095,0.997)(0.100,0.993)
(0.105,1.004)(0.110,0.992)(0.115,1.000)(0.120,0.994)(0.125,1.003)(0.130,0.996)(0.135,1.002)(0.140,0.993)(0.145,0.999)(0.150,0.995)
(0.155,1.006)(0.160,0.994)(0.165,1.002)(0.170,0.996)(0.175,1.005)(0.180,0.998)(0.185,1.004)(0.190,0.995)(0.195,1.001)(0.200,0.997)
(0.205,1.008)(0.210,0.996)(0.215,1.004)(0.220,0.998)(0.225,1.007)(0.230,1.000)(0.235,1.006)(0.240,0.997)(0.245,1.003)(0.250,0.999)
(0.255,1.008)(0.260,0.996)(0.265,1.004)(0.270,0.998)(0.275,1.007)(0.280,1.000)(0.285,1.006)(0.290,0.997)(0.295,1.003)(0.300,0.999)
(0.305,1.008)(0.310,0.996)(0.315,1.004)(0.320,0.998)(0.325,1.007)(0.330,1.000)(0.335,1.006)(0.340,0.997)(0.345,1.003)(0.350,0.999)
(0.355,1.008)(0.360,0.996)(0.365,1.004)(0.370,0.998)(0.375,1.007)(0.380,1.000)(0.385,1.006)(0.390,0.997)(0.395,1.003)(0.400,0.999)
(0.405,1.006)(0.410,0.994)(0.415,1.002)(0.420,0.996)(0.425,1.005)(0.430,0.998)(0.435,1.004)(0.440,0.995)(0.445,1.001)(0.450,0.997)
(0.455,1.002)(0.460,0.990)(0.465,0.998)(0.470,0.992)(0.475,1.001)(0.480,0.994)(0.485,1.000)(0.490,0.991)(0.495,0.990)
};
\addlegendentry{TESS 2018 data}
\addplot[model] coordinates {
(-0.5,0.994)(-0.482,1.004)(-0.4,1.01)(-0.3,1.017)(-0.25,1.019)(-0.2,1.018)(-0.15,1.015)(-0.1,1.008)(-0.05,1.0)(-0.0155,0.994)(-0.0085,0.765)(0.011,0.765)(0.018,0.994)(0.134,0.998)(0.25,1.002)(0.374,1.002)(0.484,0.998)(0.5,0.988)
};
\addlegendentry{TESS 2018 model}
\end{axis}

% ---------------- Panel 5: TESS 2020
\begin{axis}[flux, at={(79pt,312.5pt)}, anchor=south west]
\addplot[refline] coordinates {(-0.5,1)(0.5,1)};
\addplot[datmid, pviolet] coordinates {
(-0.4975,0.982)(-0.4925,1.005)(-0.4875,0.986)(-0.4825,1.018)(-0.4775,0.994)(-0.4725,1.010)(-0.4675,0.981)(-0.4625,1.002)(-0.4575,0.990)(-0.4525,1.014)
(-0.4475,0.991)(-0.4425,1.020)(-0.4375,0.987)(-0.4325,1.003)(-0.4275,0.995)(-0.4225,1.019)(-0.4175,0.982)(-0.4125,1.011)(-0.4075,0.999)(-0.4025,1.015)
(-0.3975,0.988)(-0.3925,1.011)(-0.3875,0.992)(-0.3825,1.024)(-0.3775,1.000)(-0.3725,1.016)(-0.3675,0.987)(-0.3625,1.008)(-0.3575,0.996)(-0.3525,1.020)
(-0.3475,0.997)(-0.3425,1.026)(-0.3375,0.993)(-0.3325,1.009)(-0.3275,1.001)(-0.3225,1.025)(-0.3175,0.988)(-0.3125,1.017)(-0.3075,1.005)(-0.3025,1.021)
(-0.2975,0.994)(-0.2925,1.017)(-0.2875,0.998)(-0.2825,1.030)(-0.2775,1.006)(-0.2725,1.022)(-0.2675,0.993)(-0.2625,1.014)(-0.2575,1.002)(-0.2525,1.026)
(-0.2475,1.001)(-0.2425,1.030)(-0.2375,0.997)(-0.2325,1.013)(-0.2275,1.005)(-0.2225,1.029)(-0.2175,0.992)(-0.2125,1.021)(-0.2075,1.009)(-0.2025,1.025)
(-0.1975,0.991)(-0.1925,1.014)(-0.1875,0.995)(-0.1825,1.027)(-0.1775,1.003)(-0.1725,1.019)(-0.1675,0.990)(-0.1625,1.011)(-0.1575,0.999)(-0.1525,1.023)
(-0.1475,0.991)(-0.1425,1.020)(-0.1375,0.987)(-0.1325,1.003)(-0.1275,0.995)(-0.1225,1.019)(-0.1175,0.982)(-0.1125,1.011)(-0.1075,0.999)(-0.1025,1.015)
(-0.0975,0.977)(-0.0925,1.000)(-0.0875,0.981)(-0.0825,1.013)(-0.0775,0.989)(-0.0725,1.005)(-0.0675,0.976)(-0.0625,0.997)(-0.0575,0.985)(-0.0525,1.009)
(-0.0475,0.974)(-0.0425,1.003)(-0.0375,0.970)(-0.0325,0.986)(-0.0275,0.978)(-0.0225,1.002)(-0.0175,0.965)
(-0.0160,0.975)(-0.0155,0.960)(-0.0150,0.945)(-0.0145,0.930)(-0.0140,0.910)(-0.0135,0.895)(-0.0130,0.880)(-0.0125,0.860)(-0.0120,0.845)(-0.0115,0.830)(-0.0110,0.810)(-0.0105,0.795)(-0.0100,0.780)(-0.0095,0.770)
(-0.0085,0.755)(-0.0070,0.775)(-0.0055,0.750)(-0.0040,0.770)(-0.0025,0.780)(-0.0010,0.760)(0.0005,0.785)(0.0020,0.765)(0.0035,0.790)(0.0050,0.770)(0.0065,0.800)(0.0080,0.815)(0.0095,0.825)(0.0105,0.800)
(0.0110,0.785)(0.0115,0.800)(0.0120,0.820)(0.0125,0.835)(0.0130,0.850)(0.0135,0.865)(0.0140,0.885)(0.0145,0.900)(0.0150,0.915)(0.0155,0.930)(0.0160,0.950)(0.0165,0.960)(0.0170,0.975)(0.0175,0.985)
(0.0225,0.970)(0.0275,0.993)(0.0325,0.974)(0.0375,1.006)(0.0425,0.982)(0.0475,0.998)
(0.0525,0.980)(0.0575,1.009)(0.0625,0.976)(0.0675,0.992)(0.0725,0.984)(0.0775,1.008)(0.0825,0.971)(0.0875,1.000)(0.0925,0.988)(0.0975,1.004)
(0.1025,0.978)(0.1075,1.001)(0.1125,0.982)(0.1175,1.014)(0.1225,0.990)(0.1275,1.006)(0.1325,0.977)(0.1375,0.998)(0.1425,0.986)(0.1475,1.010)
(0.1525,0.989)(0.1575,1.018)(0.1625,0.985)(0.1675,1.001)(0.1725,0.993)(0.1775,1.017)(0.1825,0.980)(0.1875,1.009)(0.1925,0.997)(0.1975,1.013)
(0.2025,0.989)(0.2075,1.012)(0.2125,0.993)(0.2175,1.025)(0.2225,1.001)(0.2275,1.017)(0.2325,0.988)(0.2375,1.009)(0.2425,0.997)(0.2475,1.021)
(0.2525,0.997)(0.2575,1.026)(0.2625,0.993)(0.2675,1.009)(0.2725,1.001)(0.2775,1.025)(0.2825,0.988)(0.2875,1.017)(0.2925,1.005)(0.2975,1.021)
(0.3025,0.991)(0.3075,1.014)(0.3125,0.995)(0.3175,1.027)(0.3225,1.003)(0.3275,1.019)(0.3325,0.990)(0.3375,1.011)(0.3425,0.999)(0.3475,1.023)
(0.3525,0.997)(0.3575,1.026)(0.3625,0.993)(0.3675,1.009)(0.3725,1.001)(0.3775,1.025)(0.3825,0.988)(0.3875,1.017)(0.3925,1.005)(0.3975,1.021)
(0.4025,0.988)(0.4075,1.011)(0.4125,0.992)(0.4175,1.024)(0.4225,1.000)(0.4275,1.016)(0.4325,0.987)(0.4375,1.008)(0.4425,0.996)(0.4475,1.020)
(0.4525,0.989)(0.4575,1.018)(0.4625,0.985)(0.4675,1.001)(0.4725,0.993)(0.4775,1.017)(0.4825,0.980)(0.4875,1.009)(0.4925,0.997)(0.4975,1.010)
(-0.495,1.005)(-0.490,0.993)(-0.485,1.001)(-0.480,0.995)(-0.475,1.004)(-0.470,0.997)(-0.465,1.003)(-0.460,0.994)(-0.455,1.000)(-0.450,0.996)
(-0.445,1.008)(-0.440,0.996)(-0.435,1.004)(-0.430,0.998)(-0.425,1.007)(-0.420,1.000)(-0.415,1.006)(-0.410,0.997)(-0.405,1.003)(-0.400,0.999)
(-0.395,1.011)(-0.390,0.999)(-0.385,1.007)(-0.380,1.001)(-0.375,1.010)(-0.370,1.003)(-0.365,1.009)(-0.360,1.000)(-0.355,1.006)(-0.350,1.002)
(-0.345,1.014)(-0.340,1.002)(-0.335,1.010)(-0.330,1.004)(-0.325,1.013)(-0.320,1.006)(-0.315,1.012)(-0.310,1.003)(-0.305,1.009)(-0.300,1.005)
(-0.295,1.017)(-0.290,1.005)(-0.285,1.013)(-0.280,1.007)(-0.275,1.016)(-0.270,1.009)(-0.265,1.015)(-0.260,1.006)(-0.255,1.012)(-0.250,1.008)
(-0.245,1.018)(-0.240,1.006)(-0.235,1.014)(-0.230,1.008)(-0.225,1.017)(-0.220,1.010)(-0.215,1.016)(-0.210,1.007)(-0.205,1.013)(-0.200,1.009)
(-0.195,1.014)(-0.190,1.002)(-0.185,1.010)(-0.180,1.004)(-0.175,1.013)(-0.170,1.006)(-0.165,1.012)(-0.160,1.003)(-0.155,1.009)(-0.150,1.005)
(-0.145,1.008)(-0.140,0.996)(-0.135,1.004)(-0.130,0.998)(-0.125,1.007)(-0.120,1.000)(-0.115,1.006)(-0.110,0.997)(-0.105,1.003)(-0.100,0.999)
(-0.095,1.000)(-0.090,0.988)(-0.085,0.996)(-0.080,0.990)(-0.075,0.999)(-0.070,0.992)(-0.065,0.998)(-0.060,0.989)(-0.055,0.995)(-0.050,0.991)
(-0.045,0.991)(-0.040,0.979)(-0.035,0.987)(-0.030,0.981)(-0.025,0.990)(-0.020,0.983)
(0.020,0.993)(0.025,0.981)(0.030,0.989)(0.035,0.983)(0.040,0.992)(0.045,0.985)(0.050,0.991)
(0.055,0.997)(0.060,0.985)(0.065,0.993)(0.070,0.987)(0.075,0.996)(0.080,0.989)(0.085,0.995)(0.090,0.986)(0.095,0.992)(0.100,0.988)
(0.105,1.001)(0.110,0.989)(0.115,0.997)(0.120,0.991)(0.125,1.000)(0.130,0.993)(0.135,0.999)(0.140,0.990)(0.145,0.996)(0.150,0.992)
(0.155,1.006)(0.160,0.994)(0.165,1.002)(0.170,0.996)(0.175,1.005)(0.180,0.998)(0.185,1.004)(0.190,0.995)(0.195,1.001)(0.200,0.997)
(0.205,1.012)(0.210,1.000)(0.215,1.008)(0.220,1.002)(0.225,1.011)(0.230,1.004)(0.235,1.010)(0.240,1.001)(0.245,1.007)(0.250,1.003)
(0.255,1.014)(0.260,1.002)(0.265,1.010)(0.270,1.004)(0.275,1.013)(0.280,1.006)(0.285,1.012)(0.290,1.003)(0.295,1.009)(0.300,1.005)
(0.305,1.014)(0.310,1.002)(0.315,1.010)(0.320,1.004)(0.325,1.013)(0.330,1.006)(0.335,1.012)(0.340,1.003)(0.345,1.009)(0.350,1.005)
(0.355,1.014)(0.360,1.002)(0.365,1.010)(0.370,1.004)(0.375,1.013)(0.380,1.006)(0.385,1.012)(0.390,1.003)(0.395,1.009)(0.400,1.005)
(0.405,1.011)(0.410,0.999)(0.415,1.007)(0.420,1.001)(0.425,1.010)(0.430,1.003)(0.435,1.009)(0.440,1.000)(0.445,1.006)(0.450,1.002)
(0.455,1.006)(0.460,0.994)(0.465,1.002)(0.470,0.996)(0.475,1.005)(0.480,0.998)(0.485,1.004)(0.490,0.995)(0.495,0.995)
};
\addlegendentry{TESS 2020 data}
\addplot[model] coordinates {
(-0.5,0.992)(-0.482,1.0)(-0.4,1.005)(-0.3,1.011)(-0.25,1.0125)(-0.2,1.007)(-0.148,1.0)(-0.1,0.993)(-0.05,0.985)(-0.0155,0.979)(-0.0085,0.762)(0.011,0.762)(0.018,0.985)(0.05,0.988)(0.134,0.996)(0.2,1.003)(0.25,1.008)(0.374,1.008)(0.45,1.004)(0.484,1.002)(0.5,0.992)
};
\addlegendentry{TESS 2020 model}
\end{axis}

% ---------------- Panel 6: radial velocities
\begin{axis}[base, at={(79pt,48.5pt)}, anchor=south west, height=264pt,
  ymin=-200, ymax=370, ytick={-200,-100,0,100,200,300},
  xtick pos=left,
  xticklabel style={/pgf/number format/.cd, fixed, fixed zerofill, precision=2},
  xlabel={Phase}, ylabel={Radial velocity (km s$^{-1}$)},
  every axis x label/.style={at={(axis description cs:0.5,-0.1174)}, anchor=center, font=\fontsize{18}{21}\selectfont},
  every axis y label/.style={at={(axis description cs:-0.0906,0.5)}, rotate=90, anchor=center, font=\fontsize{18}{21}\selectfont},
  legend style={nodes={text height=11.5pt, text depth=5.3pt}, yshift=0.2pt}]
\addplot[model] coordinates {
(-0.500,86.00)(-0.475,97.26)(-0.450,108.25)(-0.425,118.69)(-0.400,128.32)(-0.375,136.91)(-0.350,144.25)(-0.325,150.15)(-0.300,154.48)(-0.275,157.11)(-0.250,158.00)(-0.225,157.11)(-0.200,154.48)(-0.175,150.15)(-0.150,144.25)(-0.125,136.91)(-0.100,128.32)(-0.075,118.69)(-0.050,108.25)(-0.025,97.26)(0.000,86.00)(0.025,74.74)(0.050,63.75)(0.075,53.31)(0.100,43.68)(0.125,35.09)(0.150,27.75)(0.175,21.85)(0.200,17.52)(0.225,14.89)(0.250,14.00)(0.275,14.89)(0.300,17.52)(0.325,21.85)(0.350,27.75)(0.375,35.09)(0.400,43.68)(0.425,53.31)(0.450,63.75)(0.475,74.74)(0.500,86.00)
};
\addlegendentry{$H_{\alpha,1}$ model}
\addplot[model, dash pattern=on 6pt off 3pt] coordinates {
(-0.500,71.00)(-0.475,40.50)(-0.450,10.74)(-0.425,-17.53)(-0.400,-43.62)(-0.375,-66.88)(-0.350,-86.76)(-0.325,-102.75)(-0.300,-114.46)(-0.275,-121.60)(-0.250,-124.00)(-0.225,-121.60)(-0.200,-114.46)(-0.175,-102.75)(-0.150,-86.76)(-0.125,-66.88)(-0.100,-43.62)(-0.075,-17.53)(-0.050,10.74)(-0.025,40.50)(0.000,71.00)(0.025,101.50)(0.050,131.26)(0.075,159.53)(0.100,185.62)(0.125,208.88)(0.150,228.76)(0.175,244.75)(0.200,256.46)(0.225,263.60)(0.250,266.00)(0.275,263.60)(0.300,256.46)(0.325,244.75)(0.350,228.76)(0.375,208.88)(0.400,185.62)(0.425,159.53)(0.450,131.26)(0.475,101.50)(0.500,71.00)
};
\addlegendentry{$H_{\alpha,2}$ model}
\addplot[only marks, blue, mark=square*, mark size=2.7pt, errlegB,
  error bars/.cd, y dir=both, y fixed=3, error bar style={line width=0.8pt},
  error mark options={rotate=90, mark size=2.5pt, line width=0.8pt}] coordinates {
(-0.455,104.7)(-0.440,114.4)(-0.4235,120.5)(-0.409,125.9)(-0.3935,131.3)(-0.378,138.5)(-0.337,148.6)(-0.322,152.2)(-0.306,154.0)(-0.2915,155.4)(-0.276,157.2)(-0.262,158.6)(-0.256,158.2)(-0.2443,158.6)(-0.238,158.0)(-0.2296,157.6)(-0.226,155.0)(-0.210,154.7)(-0.205,154.0)(-0.1955,154.0)(-0.1824,152.2)(-0.1775,150.4)(-0.1655,149.3)(-0.1498,146.0)(-0.1336,141.4)(-0.129,140.0)(-0.1173,134.9)(-0.1124,133.5)(-0.0993,129.5)(-0.0847,122.7)(-0.0765,114.4)(-0.0668,115.5)(-0.0619,114.4)(-0.0521,110.0)(-0.0456,110.0)(-0.0375,111.5)
(0.0729,55.8)(0.0899,44.3)(0.106,39.6)(0.1234,37.0)(0.1395,32.7)(0.1738,21.6)(0.1892,18.4)(0.2063,15.5)(0.2218,14.4)(0.2372,11.9)(0.2526,13.3)(0.2698,13.3)(0.287,14.4)(0.3033,17.3)(0.3195,19.1)(0.355,29.9)(0.370,35.3)(0.3857,40.0)(0.3914,41.4)(0.401,42.5)(0.4068,44.3)(0.4165,48.0)(0.4225,51.5)(0.43,58.7)
};
\addlegendentry{$H_{\alpha,1}$ data}
\addplot[only marks, red, mark=triangle*, mark size=3.1pt, errlegR,
  error bars/.cd, y dir=both, y fixed=3, error bar style={line width=0.8pt},
  error mark options={rotate=90, mark size=2.5pt, line width=0.8pt}] coordinates {
(-0.4967,66.5)(-0.487,53.2)(-0.483,47.8)(-0.4713,33.5)(-0.470,26.3)(-0.457,13.7)(-0.455,8.3)(-0.4414,-4.3)(-0.4388,-9.0)(-0.4235,-23.4)(-0.409,-37.0)(-0.3935,-52.2)(-0.378,-65.8)(-0.337,-98.2)(-0.322,-106.0)(-0.306,-113.3)(-0.2915,-118.7)(-0.276,-122.3)(-0.259,-124.8)(-0.2443,-125.5)(-0.2296,-124.0)(-0.223,-123.0)(-0.210,-119.8)(-0.197,-115.8)(-0.183,-109.7)(-0.1775,-106.0)(-0.1678,-100.7)(-0.1645,-97.5)(-0.1498,-88.0)(-0.1466,-85.3)(-0.1329,-73.7)(-0.1173,-61.5)(-0.1117,-58.3)(-0.0993,-42.8)(-0.096,-42.0)(-0.0837,-27.7)(-0.0765,-20.5)(-0.0668,-9.7)(-0.0629,-4.3)(-0.0505,4.7)(-0.0456,13.7)(-0.0384,22.7)(-0.031,30.6)(-0.0212,40.6)(-0.0081,58.6)(0.0007,73.0)(0.0076,80.0)(0.0196,96.5)(0.023,99.0)(0.035,111.0)(0.039,118.0)(0.0555,138.0)(0.071,156.0)(0.089,174.0)(0.106,190.0)(0.1235,204.5)(0.139,219.0)(0.174,241.5)(0.189,249.5)(0.206,256.7)(0.208,258.5)(0.2218,260.0)(0.224,262.0)(0.2372,263.7)(0.241,265.5)(0.2526,264.5)(0.257,265.5)(0.268,262.6)(0.272,262.0)(0.287,259.0)(0.3033,254.6)(0.3195,246.4)(0.354,221.6)(0.370,210.4)(0.3857,197.0)(0.3914,190.0)(0.400,185.7)(0.4068,174.9)(0.4137,170.0)(0.422,157.4)(0.430,154.5)(0.438,138.7)(0.4445,135.8)(0.4515,123.2)(0.4597,115.0)(0.4665,105.3)(0.4717,96.3)(0.4803,86.2)(0.487,80.0)(0.496,71.0)
};
\addlegendentry{$H_{\alpha,2}$ data}
\end{axis}
\end{tikzpicture}
\end{document}
